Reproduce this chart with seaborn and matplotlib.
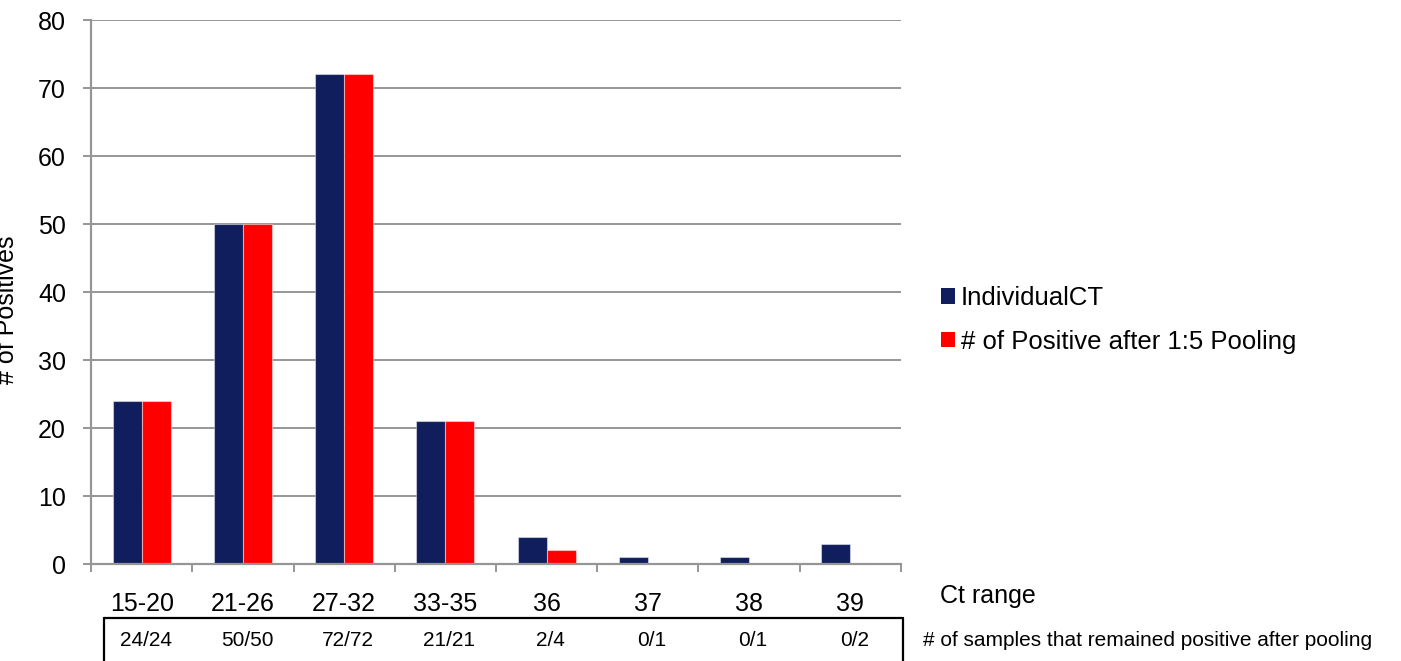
import matplotlib
matplotlib.use("Agg")
import matplotlib.pyplot as plt
import matplotlib.transforms as mtransforms
from matplotlib.patches import Patch
import seaborn as sns
import pandas as pd
import numpy as np

# Ct ranges and counts of positive samples
ct_ranges = ["15-20", "21-26", "27-32", "33-35", "36", "37", "38", "39"]
individual_ct = [24, 50, 72, 21, 4, 1, 1, 3]
pooled_positive = [24, 50, 72, 21, 2, 0, 0, 0]
remained_positive = ["24/24", "50/50", "72/72", "21/21", "2/4", "0/1", "0/1", "0/2"]

series_names = ["IndividualCT", "# of Positive after 1:5 Pooling"]
series_colors = ["#111E5E", "#FF0000"]

df = pd.DataFrame({
    "Ct range": ct_ranges * 2,
    "Positives": individual_ct + pooled_positive,
    "Series": [series_names[0]] * len(ct_ranges) + [series_names[1]] * len(ct_ranges),
})

sns.set_theme(style="white")
plt.rcParams["font.family"] = ["Liberation Sans", "DejaVu Sans"]
plt.rcParams["text.color"] = "black"

fig = plt.figure(figsize=(14.01, 6.61), dpi=100)
ax = fig.add_axes([0.065, 0.1467, 0.578, 0.823])

grid_color = "#969696"
ax.set_axisbelow(True)
ax.yaxis.grid(True, color=grid_color, linewidth=1.4)

sns.barplot(data=df, x="Ct range", y="Positives", hue="Series",
            order=ct_ranges, hue_order=series_names, palette=series_colors,
            width=0.574, saturation=1, errorbar=None, ax=ax,
            edgecolor=(1, 1, 1, 0.45), linewidth=0.8, legend=False)

n = len(ct_ranges)
ax.set_xlim(-0.5, n - 0.5)
ax.set_ylim(0, 80)
ax.set_yticks(np.arange(0, 81, 10))

# category labels centred, tick marks at category boundaries
ax.set_xticks(np.arange(n))
ax.set_xticklabels(ct_ranges, fontsize=18, color="black")
ax.tick_params(axis="x", which="major", length=0, pad=20)
ax.set_xticks(np.arange(n + 1) - 0.5, minor=True)
ax.tick_params(axis="x", which="minor", length=6, width=1.4, color=grid_color,
               direction="out", bottom=True)
ax.tick_params(axis="y", length=6, width=1.4, color=grid_color, direction="out",
               left=True, pad=12, labelsize=18, labelcolor="black")

for side in ["top", "right"]:
    ax.spines[side].set_visible(False)
for side in ["left", "bottom"]:
    ax.spines[side].set_color(grid_color)
    ax.spines[side].set_linewidth(1.6)

ax.set_xlabel("")
ax.set_ylabel("")
fig.text(0.0135, 0.531, "# of Positives", rotation=90, ha="right", va="center",
         fontsize=18, color="black")

fig.text(940 / 1401, 1 - 596 / 661, "Ct range", ha="left", va="center",
         fontsize=18, color="black")

# table of samples that stayed positive after pooling
box_top = 1 - 618 / 661
fig.add_artist(plt.Line2D([104 / 1401, 104 / 1401], [0, box_top], color="black", lw=1.6))
fig.add_artist(plt.Line2D([903 / 1401, 903 / 1401], [0, box_top], color="black", lw=1.6))
fig.add_artist(plt.Line2D([104 / 1401, 903 / 1401], [box_top, box_top], color="black", lw=1.6))
row_transform = mtransforms.blended_transform_factory(ax.transData, fig.transFigure)
for i, txt in enumerate(remained_positive):
    ax.text(i + 0.04, 1 - 641 / 661, txt, transform=row_transform,
            ha="center", va="center", fontsize=15, color="black")
fig.text(923 / 1401, 1 - 641 / 661, "# of samples that remained positive after pooling",
         ha="left", va="center", fontsize=15, color="black")

handles = [Patch(facecolor=c, edgecolor="none") for c in series_colors]
fig.legend(handles, series_names, loc="center left",
           bbox_to_anchor=(941 / 1401, 1 - 320 / 661), frameon=False,
           fontsize=18.5, labelcolor="black", handlelength=0.56, handleheight=0.56,
           handletextpad=0.2, labelspacing=0.75, borderpad=0, borderaxespad=0)

fig.savefig("out.png", dpi=100)
